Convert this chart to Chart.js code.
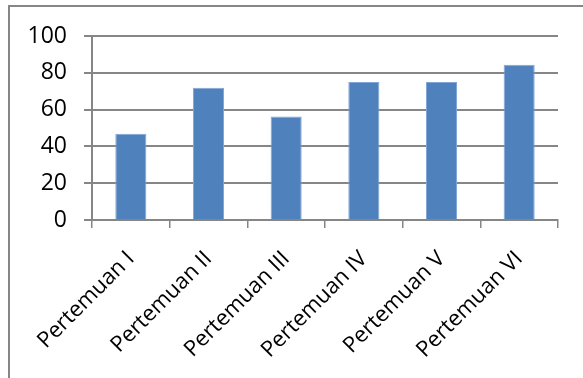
<!DOCTYPE html>
<html>
<head>
<meta charset="utf-8">
<script src="https://cdn.jsdelivr.net/npm/chart.js@4/dist/chart.umd.min.js"></script>
<style>
  html, body { margin: 0; padding: 0; background: #fff; }
  #wrap { position: relative; width: 583px; height: 378px; overflow: hidden; }
  #frame { position: absolute; left: 8px; top: 5px; width: 600px; height: 400px;
           border-left: 2px solid #868686; border-top: 2px solid #868686; box-sizing: border-box; }
  canvas { position: absolute; left: 0; top: 0; }
</style>
</head>
<body>
<div id="wrap">
  <div id="frame"></div>
  <canvas id="c" width="583" height="378"></canvas>
</div>
<script>
// Meeting results (percent)
const categories = ['Pertemuan I', 'Pertemuan II', 'Pertemuan III', 'Pertemuan IV', 'Pertemuan V', 'Pertemuan VI'];
const scores = [46.9, 71.9, 56.3, 75, 75, 84.4];
const yTicks = [0, 20, 40, 60, 80, 100];

const axisGrey = '#868686';
const fontFamily = '"Open Sans", sans-serif';

new Chart(document.getElementById('c'), {
  type: 'bar',
  data: {
    labels: categories,
    datasets: [{
      data: scores,
      backgroundColor: '#4F81BD',
      borderColor: '#7FA6D6',
      borderWidth: 1,
      categoryPercentage: 0.4,
      barPercentage: 1
    }]
  },
  options: {
    responsive: false,
    animation: false,
    events: [],
    layout: { padding: { top: 36, right: 25, left: 0, bottom: 0 } },
    plugins: { legend: { display: false }, tooltip: { enabled: false } },
    scales: {
      x: {
        offset: true,
        grid: { offset: true, drawOnChartArea: false, drawTicks: true, tickLength: 8, color: axisGrey, lineWidth: 1.5 },
        border: { color: axisGrey, width: 2 },
        ticks: { color: '#000', font: { family: fontFamily, size: 22 }, autoSkip: false, maxRotation: 45, minRotation: 45, padding: 18 },
        afterFit: s => { s.height = 158; }
      },
      y: {
        min: 0, max: 100,
        afterBuildTicks: s => { s.ticks = yTicks.map(v => ({ value: v })); },
        grid: { color: axisGrey, lineWidth: 2, tickLength: 8 },
        border: { color: axisGrey, width: 2 },
        ticks: { color: '#000', font: { family: fontFamily, size: 23 }, padding: 17 },
        afterFit: s => { s.width = 92; }
      }
    }
  }
});
</script>
</body>
</html>
